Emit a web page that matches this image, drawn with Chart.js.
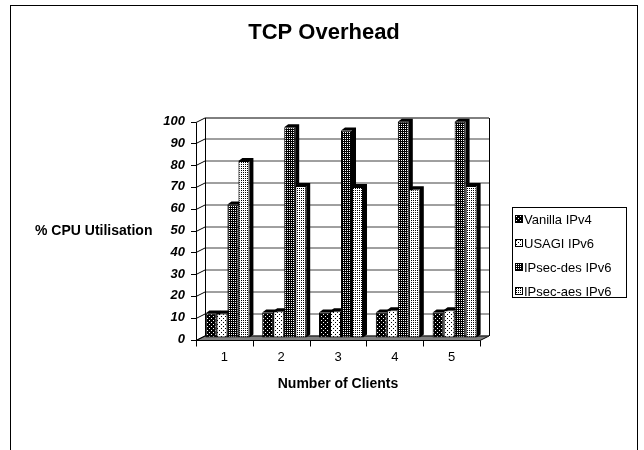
<!DOCTYPE html>
<html>
<head>
<meta charset="utf-8">
<script src="https://cdn.jsdelivr.net/npm/chart.js@4"></script>
<style>
  html, body { margin: 0; padding: 0; background: #fff; }
  #wrap { width: 644px; height: 450px; }
</style>
</head>
<body>
<div id="wrap"><canvas id="chart" width="644" height="450"></canvas></div>
<script>
// ---- data ----
const categories   = ['1', '2', '3', '4', '5'];
const seriesNames  = ['Vanilla IPv4', 'USAGI IPv6', 'IPsec-des IPv6', 'IPsec-aes IPv6'];
const vanillaIPv4  = [11, 11.5, 11.5, 11.5, 11.5];
const usagiIPv6    = [11, 12, 12, 12.5, 12.5];
const ipsecDesIPv6 = [61, 96.5, 95, 99, 99];
const ipsecAesIPv6 = [81, 69.5, 69, 68, 69.5];
const yTicks       = [0, 10, 20, 30, 40, 50, 60, 70, 80, 90, 100];

const FONT = 'Liberation Sans, Arial, Helvetica, sans-serif';

// 3D look: back wall offset, bar offset inside the depth, bar extrusion
const WALL  = { dx: 9, dy: -4.5 };
const BAR   = { dx: 3, dy: -2 };
const DEPTH = { dx: 4, dy: -3 };

const canvas = document.getElementById('chart');
const ctx = canvas.getContext('2d');

// dotted fills like the old office patterns
function makePattern(bg, fg, size, dots) {
  const c = document.createElement('canvas');
  c.width = size; c.height = size;
  const g = c.getContext('2d');
  g.fillStyle = bg; g.fillRect(0, 0, size, size);
  g.fillStyle = fg;
  dots.forEach(([x, y]) => g.fillRect(x, y, 1, 1));
  return ctx.createPattern(c, 'repeat');
}

const fills = [
  makePattern('#000', '#fff', 4, [[0, 0], [2, 2]]),   // Vanilla: black, sparse white dots
  makePattern('#fff', '#000', 4, [[0, 0], [2, 2]]),   // USAGI: white, sparse black dots
  makePattern('#000', '#fff', 2, [[0, 0]]),           // des: dark dotted
  makePattern('#fff', '#000', 2, [[0, 0]])            // aes: light dotted
];

const seriesData = [vanillaIPv4, usagiIPv6, ipsecDesIPv6, ipsecAesIPv6];

// ---- walls, floor and bar sides ----
const walls3d = {
  id: 'walls3d',
  beforeDatasetsDraw(chart) {
    const c = chart.ctx;
    const xs = chart.scales.x, ys = chart.scales.y;
    const L = xs.left, R = xs.right;
    const y0 = Math.round(ys.getPixelForValue(0)) + 0.5;
    const yTop = Math.round(ys.getPixelForValue(100)) + 0.5;

    c.save();
    c.lineWidth = 1;

    // floor
    c.beginPath();
    c.moveTo(L, y0); c.lineTo(R, y0);
    c.lineTo(R + WALL.dx, y0 + WALL.dy); c.lineTo(L + WALL.dx, y0 + WALL.dy);
    c.closePath();
    c.fillStyle = '#808080'; c.fill();
    c.strokeStyle = '#000'; c.stroke();

    // gridlines on the back wall + diagonals on left wall + ticks
    yTicks.forEach(v => {
      const y = Math.round(ys.getPixelForValue(v)) + 0.5;
      c.strokeStyle = v === 100 ? '#000' : '#404040';
      c.beginPath();
      c.moveTo(L + WALL.dx, y + WALL.dy); c.lineTo(R + WALL.dx, y + WALL.dy);
      c.stroke();
      c.strokeStyle = '#000';
      c.beginPath();
      c.moveTo(L, y); c.lineTo(L + WALL.dx, y + WALL.dy);
      c.moveTo(L - 5, y); c.lineTo(L, y);
      c.stroke();
    });

    // wall edges
    c.strokeStyle = '#000';
    c.beginPath();
    c.moveTo(Math.round(L) + 0.5, yTop); c.lineTo(Math.round(L) + 0.5, y0);
    c.moveTo(Math.round(L + WALL.dx) + 0.5, yTop + WALL.dy); c.lineTo(Math.round(L + WALL.dx) + 0.5, y0 + WALL.dy);
    c.moveTo(Math.round(R + WALL.dx) + 0.5, yTop + WALL.dy); c.lineTo(Math.round(R + WALL.dx) + 0.5, y0 + WALL.dy);
    c.stroke();

    // category ticks under the floor
    const step = (R - L) / categories.length;
    c.beginPath();
    for (let i = 0; i <= categories.length; i++) {
      const x = Math.round(L + i * step) + 0.5;
      c.moveTo(x, y0); c.lineTo(x, y0 + 6);
    }
    c.stroke();
    c.restore();

    // bars sit a little inside the depth
    c.save();
    c.translate(BAR.dx, BAR.dy);
    c.fillStyle = '#000';
    chart.data.datasets.forEach((ds, di) => {
      chart.getDatasetMeta(di).data.forEach(el => {
        const p = el.getProps(['x', 'y', 'base', 'width'], true);
        const xl = p.x - p.width / 2, xr = p.x + p.width / 2;
        c.beginPath();
        c.moveTo(xl, p.y);
        c.lineTo(xl + DEPTH.dx, p.y + DEPTH.dy);
        c.lineTo(xr + DEPTH.dx, p.y + DEPTH.dy);
        c.lineTo(xr + DEPTH.dx, p.base + DEPTH.dy);
        c.lineTo(xr, p.base);
        c.lineTo(xr, p.y);
        c.closePath();
        c.fill();
      });
    });
    // keep translation for the bar fronts drawn by Chart.js
  },
  afterDatasetsDraw(chart) {
    chart.ctx.restore();
  },
  afterDraw(chart) {
    const c = chart.ctx;
    const xs = chart.scales.x, ys = chart.scales.y;
    c.save();
    c.fillStyle = '#000';

    // title
    c.font = 'bold 22px ' + FONT;
    c.textAlign = 'center'; c.textBaseline = 'middle';
    c.fillText('TCP Overhead', 324, 33);

    // axis titles
    c.font = 'bold 14px ' + FONT;
    c.textAlign = 'left';
    c.fillText('% CPU Utilisation', 35, ys.getPixelForValue(50) + 1);
    c.textAlign = 'center';
    c.fillText('Number of Clients', (xs.left + xs.right) / 2, 384);

    // legend
    c.strokeStyle = '#000'; c.lineWidth = 1;
    c.strokeRect(512.5, 207.5, 114, 90);
    c.font = '13px ' + FONT;
    c.textAlign = 'left';
    seriesNames.forEach((name, i) => {
      const cy = 219 + i * 24;
      c.fillStyle = fills[i];
      c.fillRect(515, cy - 4, 8, 8);
      c.strokeStyle = '#000';
      c.strokeRect(515.5, cy - 3.5, 7, 7);
      c.fillStyle = '#000';
      c.fillText(name, 524, cy + 1);
    });

    // outer frame
    c.strokeRect(10.5, 5.5, 627, 470);
    c.restore();
  }
};

new Chart(ctx, {
  type: 'bar',
  data: {
    labels: categories,
    datasets: seriesNames.map((name, i) => ({
      label: name,
      data: seriesData[i],
      backgroundColor: fills[i],
      borderColor: '#000',
      borderWidth: 1,
      borderSkipped: false,
      clip: false
    }))
  },
  options: {
    responsive: false,
    animation: false,
    events: [],
    layout: { padding: { left: 156, right: 164, top: 121.5, bottom: 80.5 } },
    datasets: { bar: { categoryPercentage: 0.775, barPercentage: 1.0 } },
    scales: {
      x: {
        grid: { display: false, drawTicks: false },
        border: { display: false },
        ticks: { color: '#000', padding: 10, font: { family: FONT, size: 13 } },
        afterFit(scale) { scale.height = 30; }
      },
      y: {
        min: 0, max: 100,
        afterBuildTicks(scale) { scale.ticks = yTicks.map(v => ({ value: v })); },
        grid: { display: false, drawTicks: false },
        border: { display: false },
        ticks: { color: '#000', padding: 11, font: { family: FONT, size: 13, weight: 'bold', style: 'italic' } },
        afterFit(scale) { scale.width = 40; }
      }
    },
    plugins: {
      legend: { display: false },
      tooltip: { enabled: false },
      title: { display: false }
    }
  },
  plugins: [walls3d]
});
</script>
</body>
</html>
